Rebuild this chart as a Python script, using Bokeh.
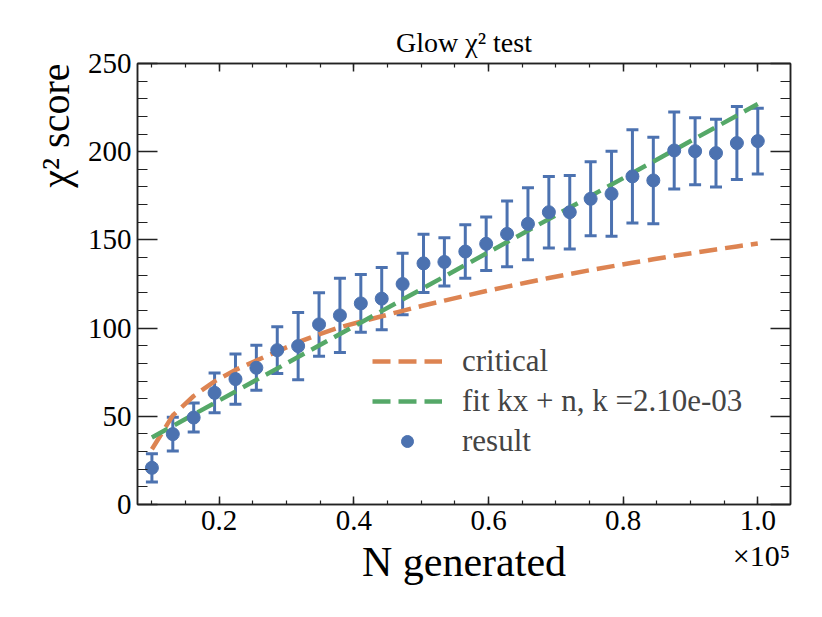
from bokeh.plotting import figure
from bokeh.models import (ColumnDataSource, Whisker, TeeHead, Range1d, LinearAxis,
                          FixedTicker, Legend, LegendItem, Title)
from bokeh.embed import file_html
from bokeh.resources import INLINE

# ---- data ----
n_generated = [10000, 13103, 16207, 19310, 22414, 25517, 28621, 31724, 34828, 37931,
               41034, 44138, 47241, 50345, 53448, 56552, 59655, 62759, 65862, 68966,
               72069, 75172, 78276, 81379, 84483, 87586, 90690, 93793, 96897, 100000]
chi2_result = [20.8, 39.9, 49.3, 63.3, 71.1, 77.5, 87.5, 89.8, 102.1, 107.2,
               114.0, 116.7, 125.0, 136.7, 137.5, 143.4, 147.8, 153.4, 159.1, 165.7,
               165.7, 173.3, 176.1, 186.0, 183.7, 200.7, 200.3, 199.2, 204.9, 206.0]
chi2_error = [8.0, 9.6, 8.2, 11.3, 14.2, 12.8, 13.3, 19.1, 18.0, 21.0,
              16.4, 17.7, 17.5, 16.5, 13.7, 15.2, 15.2, 18.6, 20.4, 20.3,
              20.8, 21.0, 24.1, 26.4, 24.5, 21.8, 19.0, 19.2, 20.7, 18.6]
chi2_critical = [31.3, 50.5, 61.5, 69.8, 76.3, 81.6, 86.8, 92.0, 96.5, 100.5,
                 103.6, 106.7, 109.8, 112.8, 115.6, 118.3, 121.0, 123.5, 126.0, 128.4,
                 130.7, 132.9, 135.0, 137.0, 139.0, 141.0, 142.8, 144.6, 146.3, 148.0]
fit_x = [10000, 100000]
fit_y = [38.0, 227.0]
x_major_ticks = [20000, 40000, 60000, 80000, 100000]
x_tick_labels = ["0.2", "0.4", "0.6", "0.8", "1.0"]
x_minor_ticks = list(range(5000, 105001, 5000))
y_major_ticks = [0, 50, 100, 150, 200, 250]
y_minor_ticks = list(range(0, 251, 10))
x_offset_pos = [100550]
x_offset_text = ["×10⁵"]

BLUE = "#4C72B0"
ORANGE = "#DD8452"
GREEN = "#55A868"
FONT = "Liberation Serif"
AX = "#222222"

p = figure(width=814, height=609, output_backend="svg", toolbar_location=None,
           x_range=Range1d(7860, 104860), y_range=Range1d(0, 250),
           min_border_left=137, min_border_right=24, min_border_top=63,
           min_border_bottom=105)
p.title.text = "Glow χ² test"
p.title.text_font = FONT
p.title.text_font_size = "28px"
p.title.text_font_style = "normal"
p.title.text_color = "black"
p.title.align = "center"
p.title.standoff = 12
p.grid.visible = False
p.outline_line_color = AX
p.outline_line_width = 1.5

src = ColumnDataSource(dict(
    x=n_generated, y=chi2_result,
    upper=[v + e for v, e in zip(chi2_result, chi2_error)],
    lower=[v - e for v, e in zip(chi2_result, chi2_error)],
    crit=chi2_critical))

r_crit = p.line("x", "crit", source=src, line_color=ORANGE, line_width=4.5,
                line_dash="18 8")
r_fit = p.line(fit_x, fit_y, line_color=GREEN, line_width=4.5, line_dash="18 8")

wh = Whisker(base="x", upper="upper", lower="lower", source=src, dimension="height",
             line_color=BLUE, line_width=3,
             upper_head=TeeHead(size=12, line_color=BLUE, line_width=3),
             lower_head=TeeHead(size=12, line_color=BLUE, line_width=3))
p.add_layout(wh)
r_pts = p.scatter("x", "y", source=src, marker="circle", size=13,
                  fill_color=BLUE, line_color=BLUE)

def style_axis(ax, is_x, show_labels):
    ax.axis_line_color = AX
    ax.axis_line_width = 1.5
    ax.major_tick_line_color = AX
    ax.minor_tick_line_color = AX
    ax.major_tick_line_width = 1.5
    ax.minor_tick_line_width = 1.2
    ax.major_tick_out = 0
    ax.minor_tick_out = 0
    if is_x:
        ax.major_tick_in = 8
        ax.minor_tick_in = 4
        ax.ticker = FixedTicker(ticks=x_major_ticks, minor_ticks=x_minor_ticks)
        ax.major_label_overrides = {t: l for t, l in zip(x_major_ticks, x_tick_labels)}
    else:
        ax.major_tick_in = 20
        ax.minor_tick_in = 10
        ax.ticker = FixedTicker(ticks=y_major_ticks, minor_ticks=y_minor_ticks)
    ax.major_label_text_font = FONT
    ax.major_label_text_color = "black"
    if show_labels:
        ax.major_label_text_font_size = "29px"
        ax.major_label_standoff = 6
    else:
        ax.major_label_text_font_size = "0px"
        ax.major_label_standoff = 0

style_axis(p.xaxis[0], True, True)
style_axis(p.yaxis[0], False, True)

top = LinearAxis()
style_axis(top, True, False)
top.major_label_overrides = {t: "" for t in x_major_ticks}
p.add_layout(top, "above")
right = LinearAxis()
style_axis(right, False, False)
right.major_label_overrides = {t: "" for t in y_major_ticks}
p.add_layout(right, "right")

# second bottom axis: carries the x10^5 offset text and the x-axis label
ax2 = LinearAxis(ticker=FixedTicker(ticks=x_offset_pos, minor_ticks=[]))
ax2.major_label_overrides = {t: s for t, s in zip(x_offset_pos, x_offset_text)}
ax2.axis_line_color = None
ax2.major_tick_line_color = None
ax2.minor_tick_line_color = None
ax2.major_tick_in = 0
ax2.major_tick_out = 0
ax2.minor_tick_in = 0
ax2.minor_tick_out = 0
ax2.major_label_text_font = FONT
ax2.major_label_text_font_size = "30px"
ax2.major_label_text_color = "black"
ax2.major_label_standoff = 6
ax2.axis_label = "N generated"
ax2.axis_label_text_font = FONT
ax2.axis_label_text_font_size = "42px"
ax2.axis_label_text_font_style = "normal"
ax2.axis_label_text_color = "black"
ax2.axis_label_standoff = -36
p.add_layout(ax2, "below")

# y label aligned to the top of the axis
ylab = Title(text="χ² score", align="right", text_font=FONT, text_font_size="40px",
             text_font_style="normal", text_color="black", standoff=14, offset=0)
p.add_layout(ylab, "left")

legend = Legend(items=[
    LegendItem(label="critical", renderers=[r_crit]),
    LegendItem(label="fit kx + n, k =2.10e-03", renderers=[r_fit]),
    LegendItem(label="result", renderers=[r_pts]),
], location=(235, 45))
legend.border_line_color = None
legend.background_fill_alpha = 0
legend.label_text_font = FONT
legend.label_text_font_size = "31px"
legend.glyph_width = 70
legend.glyph_height = 30
legend.label_standoff = 20
legend.spacing = 4
legend.padding = 4
p.add_layout(legend, "center")

open("out.html", "w").write(file_html(p, INLINE))
